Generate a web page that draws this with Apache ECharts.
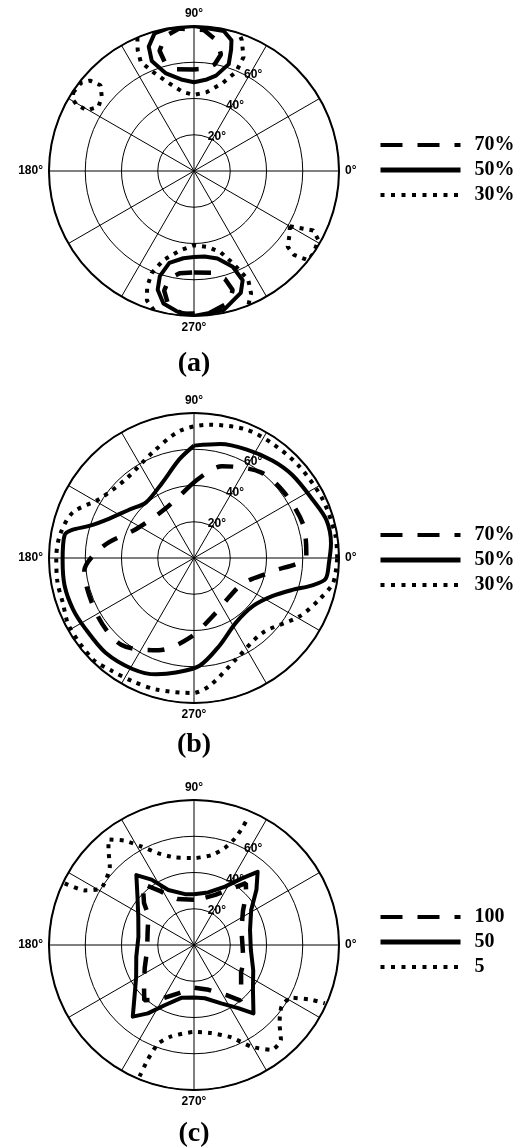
<!DOCTYPE html>
<html>
<head>
<meta charset="utf-8">
<title>polar contours</title>
<script src="https://cdn.jsdelivr.net/npm/echarts@6.0.0/dist/echarts.min.js"></script>
<style>
  html, body { margin: 0; padding: 0; background: #fff; }
  #chart { width: 525px; height: 1148px; }
</style>
</head>
<body>
<div id="chart"></div>
<script>
  // tick labels
  var angleLabels = [0, 90, 180, 270];
  var ringLabels = [20, 40, 60];
  var panelNames = ['(a)', '(b)', '(c)'];
  var legendA = ['70%', '50%', '30%'];
  var legendB = ['70%', '50%', '30%'];
  var legendC = ['100', '50', '5'];

  // every point is [angle (deg), radius (deg)]
  // (a)
  var a70Top = [[90,56],[100,57],[105,62],[106,69],[102,76],[96,79],[86,78],[80,73],[77,66],[79,60],[83,57],[90,56]];
  var a70Bottom = [[270,56],[280,57],[286,62],[288,69],[285,75],[276,79],[265,79],[259,75],[256,68],[257,61],[262,57],[270,56]];
  var a50Top = [[90,80],[100,80],[106,79],[110,73],[111,65],[106,56],[98,51],[90,49],[82,51],[77,54],[72,62],[73,70],[74,75],[78,79],[90,80]];
  var a50Bottom = [[270,47.5],[263,48.5],[255,52.5],[252,61],[253,68.5],[257,75],[263,78],[270,80],[282,78.5],[291,72],[294,66],[292,57],[285,50],[277,47.5],[270,47.5]];
  var a30Top = [[113,80],[115,73.5],[116,67],[113,60],[107,51.5],[98,44],[90,42],[81,44],[72,51],[67,59.5],[66.5,68.5],[70,77],[72,80]];
  var a30Bottom = [[254,80],[250,76],[248,69],[247.5,61],[251,52],[260,44.5],[270,41],[280,42.5],[288,47],[293,55.5],[296.5,67],[295,74.5],[292,80]];
  var a30Left = [[147,79.5],[142,79],[139,76],[137.5,70],[141,65.5],[146,63.5],[150.5,68],[150.5,74.5],[149.5,77.5],[147,79.5]];
  var a30Right = [[330,61],[333.5,73.5],[331,78.5],[325.5,80],[322,80],[320,72],[321,66.5],[327,63],[330,61]];

  // (b)
  var b70 = [[93,40],[73,53],[52,60],[36,61.5],[17,63],[1,62],[350,43.5],[333,30.5],[312,29],[292,32.5],[267,44],[249,54.5],[230,62.5],[211,62],[187,61],[172,50],[153,35.5],[120,31.5],[93,40]];
  var b50 = [[90,62],[77,64.5],[64,66.5],[51,69],[40,71],[26,73],[16,76],[6,76],[358,74.5],[351,73.5],[347,67],[342,57],[334,48],[321,42],[303,42.5],[286,50.5],[273,59.5],[261,64],[252,67.5],[241,70],[227,71.5],[213,71.5],[203,72.5],[192,73],[181,72.5],[170,72.5],[167,69],[163,60.5],[155,51.5],[143,44.5],[131,40.5],[113,45],[98.5,55],[90,62]];
  var b30 = [[0,79],[9,79],[24.5,78],[41,77],[55,76.5],[68,76.5],[83.5,74],[96.5,70.5],[111.5,62.5],[131,57.5],[148,61.5],[159.5,71.5],[170,75],[180,76],[190,76.5],[199,76.5],[208.5,78.5],[225,79],[234,77],[243.5,76],[254,75.5],[269.5,74.5],[277,71],[292.5,60.5],[312.5,56],[331,66.5],[342,73],[350,78],[360,79]];

  // (c)
  var c100 = [[90,25],[110,27],[122,35],[130,44],[140,36],[147,30],[165,26.5],[186,26],[205,30],[220,36],[228,41],[237,36],[252,28],[270,23.5],[288,26],[303,33],[310,40],[318,35],[330,30],[340,29],[355,27],[18,27.5],[35,33],[44,40],[50,44.5],[58,36],[67,30],[78,26.5],[90,25]];
  var c50 = [[90,28],[100,28.5],[115,33.5],[123,43],[129.5,50],[139.5,41],[153,34.5],[171.5,31],[191.5,32.5],[209,36.5],[221,43.5],[229.5,52],[236,45.5],[244,37],[256.5,30],[270,29],[281.5,30],[295,35.5],[305,42.5],[311,50],[322.5,41],[337,35.5],[355,31.5],[15,32],[31.5,37],[41.5,46],[49,53.5],[54.5,45],[62,36.5],[75,30],[90,28]];
  var c5Upper = [[154.5,79],[153.5,67.5],[148.5,60],[137,63.5],[132,70.5],[129,75],[123.5,69],[118,61.5],[111.5,54.5],[102.5,49.5],[89.5,48],[79,50.5],[72.5,56],[69,63],[67.5,70.5],[67,77]];
  var c5Lower = [[247.5,78.5],[248,68.5],[250,58],[256,52],[270,48],[281,49.5],[292,55],[299.5,64.5],[306.5,72],[312.5,71],[317.5,64],[325,59],[331.5,61],[335,71.5],[336,79]];

  var panelY = [171, 558, 945];
  var cx = 194, R = 145;

  var dashStyle = {color: '#000', width: 4.5, type: [17, 15], cap: 'butt'};
  var solidStyle = {color: '#000', width: 4, join: 'round'};
  var dotStyle = {color: '#000', width: 4, type: [4, 6], cap: 'butt'};

  function toPolar(pts) {
    return pts.map(function (p) { return [p[1], p[0]]; });
  }

  function line(name, panel, pts, style, smooth) {
    return {
      type: 'line', name: name, coordinateSystem: 'polar', polarIndex: panel * 2,
      data: toPolar(pts), symbol: 'none', smooth: smooth || false,
      lineStyle: style, silent: true, z: 3
    };
  }

  var labelFont = {color: '#000', fontFamily: 'Liberation Sans', fontWeight: 'bold', fontSize: 12};

  var polar = [], angleAxis = [], radiusAxis = [], title = [], legend = [];
  panelY.forEach(function (cy, i) {
    polar.push({center: [cx, cy], radius: R});
    polar.push({center: [cx, cy], radius: R});
    angleAxis.push({
      polarIndex: i * 2, type: 'value', min: 0, max: 360, interval: 30,
      startAngle: 0, clockwise: false,
      axisLine: {lineStyle: {color: '#000', width: 2}},
      axisTick: {show: false},
      axisLabel: Object.assign({
        margin: 6,
        formatter: function (v) { return angleLabels.indexOf(v) > -1 ? v + '°' : ''; }
      }, labelFont),
      splitLine: {show: true, lineStyle: {color: '#000', width: 1}}
    });
    angleAxis.push({
      polarIndex: i * 2 + 1, type: 'value', min: 0, max: 360, startAngle: 60,
      axisLine: {show: false}, axisTick: {show: false}, axisLabel: {show: false}, splitLine: {show: false}
    });
    radiusAxis.push({
      polarIndex: i * 2, type: 'value', min: 0, max: 80, interval: 20,
      axisLine: {show: false}, axisTick: {show: false}, axisLabel: {show: false},
      splitLine: {show: true, lineStyle: {color: '#000', width: 1}}
    });
    radiusAxis.push({
      polarIndex: i * 2 + 1, type: 'value', min: 0, max: 80, interval: 20, z: 10,
      axisLine: {show: false}, axisTick: {show: false}, splitLine: {show: false},
      axisLabel: Object.assign({
        align: 'left', verticalAlign: 'middle', margin: 5,
        formatter: function (v) { return ringLabels.indexOf(v) > -1 ? v + '°' : ''; }
      }, labelFont)
    });
    title.push({
      text: panelNames[i], left: cx, top: [350, 731, 1120][i], textAlign: 'center', padding: 0,
      textStyle: {fontFamily: 'Liberation Serif', fontWeight: 'bold', fontSize: 28, lineHeight: 28, color: '#000'}
    });
  });

  [legendA, legendB, legendC].forEach(function (names, i) {
    legend.push({
      orient: 'vertical', left: 378, top: [135, 525, 907][i], padding: 0,
      itemWidth: 80, itemHeight: 14, itemGap: 5, selectedMode: false,
      itemStyle: {opacity: 0},
      data: [
        {name: names[0], lineStyle: {width: 4, type: [22, 15], cap: 'butt'}},
        {name: names[1], lineStyle: {width: 5}},
        {name: names[2], lineStyle: {width: 4, type: [4, 6.5], cap: 'butt'}}
      ],
      textStyle: {fontFamily: 'Liberation Serif', fontWeight: 'bold', fontSize: 20, lineHeight: 20, color: '#000', padding: [0, 0, 0, 9]}
    });
  });

  var series = [
    line(legendA[0], 0, a70Top, dashStyle), line(legendA[0], 0, a70Bottom, dashStyle),
    line(legendA[1], 0, a50Top, solidStyle), line(legendA[1], 0, a50Bottom, solidStyle),
    line(legendA[2], 0, a30Top, dotStyle), line(legendA[2], 0, a30Bottom, dotStyle),
    line(legendA[2], 0, a30Left, dotStyle), line(legendA[2], 0, a30Right, dotStyle),
    line(legendB[0], 1, b70, dashStyle, 0.3),
    line(legendB[1], 1, b50, solidStyle, 0.3),
    line(legendB[2], 1, b30, dotStyle, 0.3),
    line(legendC[0], 2, c100, dashStyle),
    line(legendC[1], 2, c50, solidStyle),
    line(legendC[2], 2, c5Upper, dotStyle, 0.2),
    line(legendC[2], 2, c5Lower, dotStyle, 0.2)
  ];

  var chart = echarts.init(document.getElementById('chart'));
  chart.setOption({
    animation: false,
    backgroundColor: '#fff',
    title: title,
    legend: legend,
    polar: polar,
    angleAxis: angleAxis,
    radiusAxis: radiusAxis,
    series: series
  });
</script>
</body>
</html>
